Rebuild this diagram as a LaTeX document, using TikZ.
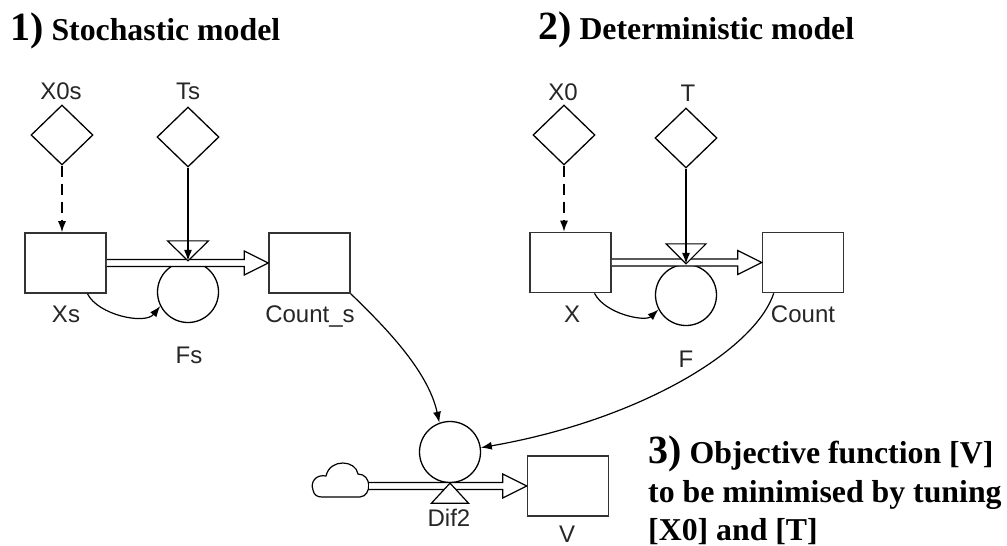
\documentclass[tikz,border=0pt]{standalone}
\usepackage{fontspec}
\setmainfont{Liberation Serif}
\newfontfamily\labfont{Liberation Sans}
\usetikzlibrary{shapes.geometric,arrows.meta,calc}
\newcommand\bignum[1]{{\fontsize{40}{40}\selectfont #1}\hspace{8pt}}
\begin{document}
\begin{tikzpicture}[x=1pt,y=-1pt,
  stock/.style={draw=black!80,line width=1.6pt,minimum width=81pt,minimum height=60pt,inner sep=0pt},
  param/.style={diamond,draw,line width=1.3pt,minimum width=62pt,minimum height=60pt,inner sep=0pt},
  conv/.style={circle,draw,line width=1.3pt,minimum size=61pt,inner sep=0pt,fill=white},
  lbl/.style={font=\labfont\fontsize{24}{24}\selectfont,text=black!85,inner sep=0pt,anchor=base},
  ttl/.style={font=\bfseries\fontsize{31.8}{31.8}\selectfont,anchor=base west,inner sep=0pt},
  link/.style={line width=1.2pt,-{Latex[length=11pt,width=8pt]}},
  pipe/.style={line width=1.2pt,fill=white,line join=miter},
  valve/.style={line width=1.2pt,fill=white,line join=miter}]
\useasboundingbox (0,0) rectangle (1007,546);
% titles
\node[ttl] (t1) at (10,40) {\bignum{1)}Stochastic model};
\node[ttl] (t2) at (538,39) {\bignum{2)}Deterministic model};
\node[ttl] (t3a) at (648,463) {\bignum{3)}Objective function [V]};
\node[ttl] (t3b) at (648,502) {to be minimised by tuning};
\node[ttl] (t3c) at (648,540) {[X0] and [T]};
% stochastic model
\node[param] (x0s) at (62,135) {};
\node[param] (ts) at (188,137) {};
\node[stock] (xs) at (65.5,263) {};
\node[stock] (cs) at (309.5,263) {};
\node[conv] (fs) at (188,292) {};
\node[lbl] (lx0s) at (61,99) {X0s};
\node[lbl] (lts) at (188,99) {Ts};
\node[lbl] (lxs) at (66,322) {Xs};
\node[lbl] (lcs) at (310,322) {Count\_s};
\node[lbl] (lfs) at (189,363) {Fs};
\draw[pipe] ($(xs.east)+(0,-3.5)$) -- ($(cs.west)+(-24,-3.5)$) -- ($(cs.west)+(-24,-12)$) -- (cs.west)
  -- ($(cs.west)+(-24,12)$) -- ($(cs.west)+(-24,3.5)$) -- ($(xs.east)+(0,3.5)$);
\draw[valve] ($(fs.north)+(-20.5,-20)$) -- ($(fs.north)+(20.5,-20)$) -- (fs.north) -- cycle;
\draw[link,dash pattern=on 11pt off 7pt] (x0s.south) -- (x0s.south |- xs.north);
\draw[link] (ts.south) -- (fs.north);
\draw[link] ($(xs.south)+(22,0)$) .. controls (98,315) and (145,325) .. (fs.207);
% deterministic model
\node[param] (x0) at (564,135) {};
\node[param] (tt) at (686,138) {};
\node[stock] (xx) at (570.5,262.5) {};
\node[stock] (cc) at (803,262.5) {};
\node[conv] (ff) at (686,295) {};
\node[lbl] (lx0) at (563,100) {X0};
\node[lbl] (ltt) at (688,101) {T};
\node[lbl] (lxx) at (572,322) {X};
\node[lbl] (lcc) at (803,322) {Count};
\node[lbl] (lff) at (686,367) {F};
\draw[pipe] ($(xx.east)+(0,-3.5)$) -- ($(cc.west)+(-24,-3.5)$) -- ($(cc.west)+(-24,-12)$) -- (cc.west)
  -- ($(cc.west)+(-24,12)$) -- ($(cc.west)+(-24,3.5)$) -- ($(xx.east)+(0,3.5)$);
\draw[valve] ($(ff.north)+(-20,-20)$) -- ($(ff.north)+(20,-20)$) -- (ff.north) -- cycle;
\draw[link,dash pattern=on 11pt off 7pt] (x0.south) -- (x0.south |- xx.north);
\draw[link] (tt.south) -- (ff.north);
\draw[link] ($(xx.south)+(24,0)$) .. controls (605,314) and (645,322) .. (ff.208);
% objective function
\node[conv] (dif) at (450,452) {};
\node[stock] (vv) at (568,486) {};
\node[lbl] (ldif) at (449,526) {Dif2};
\node[lbl] (lvv) at (567,542) {V};
\draw[line width=1.2pt,fill=white] (322,497) -- (360,497) .. controls (372,496) and (372,474) .. (358,474)
  .. controls (356,460) and (330,458) .. (326,476) .. controls (316,474) and (310,482) .. (313,490)
  .. controls (314,495) and (317,497) .. (322,497) -- cycle;
\coordinate (cloudr) at (369,486);
\draw[pipe] ($(cloudr)+(0,-3.5)$) -- ($(vv.west)+(-24,-3.5)$) -- ($(vv.west)+(-24,-12)$) -- (vv.west)
  -- ($(vv.west)+(-24,12)$) -- ($(vv.west)+(-24,3.5)$) -- ($(cloudr)+(0,3.5)$);
\draw[valve] ($(dif.south)+(-18.5,20)$) -- ($(dif.south)+(18.5,20)$) -- (dif.south) -- cycle;
\draw[link] (cs.south east) .. controls (383,325) and (428,370) .. (dif.110);
\draw[link] ($(cc.south west)+(12,0)$) .. controls (755,350) and (640,420) .. (dif.8);
\end{tikzpicture}
\end{document}
